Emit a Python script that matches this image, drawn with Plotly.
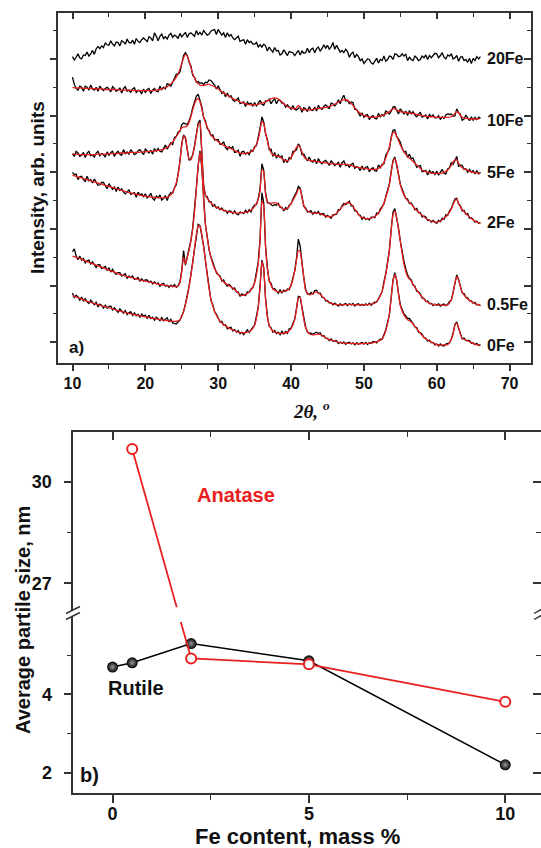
import plotly.graph_objects as go

W, H = 541, 848
FONT = "Liberation Sans, Arial, sans-serif"
RED = "#e82020"
FRAME = "#333333"

# ---------------- panel a: XRD patterns ----------------
# measured scans, 0.25 deg step (rows of 5 deg)
scan_theta = [
    10.0, 10.25, 10.5, 10.75, 11.0, 11.25, 11.5, 11.75, 12.0, 12.25, 12.5, 12.75, 13.0, 13.25, 13.5, 13.75, 14.0, 14.25, 14.5, 14.75,
    15.0, 15.25, 15.5, 15.75, 16.0, 16.25, 16.5, 16.75, 17.0, 17.25, 17.5, 17.75, 18.0, 18.25, 18.5, 18.75, 19.0, 19.25, 19.5, 19.75,
    20.0, 20.25, 20.5, 20.75, 21.0, 21.25, 21.5, 21.75, 22.0, 22.25, 22.5, 22.75, 23.0, 23.25, 23.5, 23.75, 24.0, 24.25, 24.5, 24.75,
    25.0, 25.25, 25.5, 25.75, 26.0, 26.25, 26.5, 26.75, 27.0, 27.25, 27.5, 27.75, 28.0, 28.25, 28.5, 28.75, 29.0, 29.25, 29.5, 29.75,
    30.0, 30.25, 30.5, 30.75, 31.0, 31.25, 31.5, 31.75, 32.0, 32.25, 32.5, 32.75, 33.0, 33.25, 33.5, 33.75, 34.0, 34.25, 34.5, 34.75,
    35.0, 35.25, 35.5, 35.75, 36.0, 36.25, 36.5, 36.75, 37.0, 37.25, 37.5, 37.75, 38.0, 38.25, 38.5, 38.75, 39.0, 39.25, 39.5, 39.75,
    40.0, 40.25, 40.5, 40.75, 41.0, 41.25, 41.5, 41.75, 42.0, 42.25, 42.5, 42.75, 43.0, 43.25, 43.5, 43.75, 44.0, 44.25, 44.5, 44.75,
    45.0, 45.25, 45.5, 45.75, 46.0, 46.25, 46.5, 46.75, 47.0, 47.25, 47.5, 47.75, 48.0, 48.25, 48.5, 48.75, 49.0, 49.25, 49.5, 49.75,
    50.0, 50.25, 50.5, 50.75, 51.0, 51.25, 51.5, 51.75, 52.0, 52.25, 52.5, 52.75, 53.0, 53.25, 53.5, 53.75, 54.0, 54.25, 54.5, 54.75,
    55.0, 55.25, 55.5, 55.75, 56.0, 56.25, 56.5, 56.75, 57.0, 57.25, 57.5, 57.75, 58.0, 58.25, 58.5, 58.75, 59.0, 59.25, 59.5, 59.75,
    60.0, 60.25, 60.5, 60.75, 61.0, 61.25, 61.5, 61.75, 62.0, 62.25, 62.5, 62.75, 63.0, 63.25, 63.5, 63.75, 64.0, 64.25, 64.5, 64.75,
    65.0, 65.25, 65.5, 65.75, 66.0,
]

fe0_obs = [
    0.87, 0.79, 0.83, 0.80, 0.745, 0.80, 0.73, 0.77, 0.715, 0.685, 0.745, 0.705, 0.665, 0.705, 0.625, 0.675, 0.655, 0.605, 0.655, 0.60,
    0.63, 0.64, 0.57, 0.61, 0.56, 0.53, 0.59, 0.56, 0.515, 0.56, 0.49, 0.52, 0.54, 0.475, 0.52, 0.47, 0.495, 0.44, 0.50, 0.465,
    0.48, 0.424, 0.478, 0.42, 0.445, 0.39, 0.443, 0.417, 0.382, 0.437, 0.382, 0.407, 0.433, 0.359, 0.405, 0.342, 0.33, 0.323, 0.36, 0.39,
    0.47, 0.54, 0.68, 0.81, 0.99, 1.20, 1.41, 1.68, 1.91, 2.08, 2.06, 1.88, 1.70, 1.44, 1.19, 0.97, 0.74, 0.67, 0.54, 0.50,
    0.44, 0.36, 0.37, 0.30, 0.31, 0.24, 0.26, 0.265, 0.20, 0.225, 0.18, 0.21, 0.15, 0.177, 0.135, 0.19, 0.22, 0.175, 0.22, 0.27,
    0.31, 0.46, 0.63, 1.00, 1.45, 1.32, 0.77, 0.47, 0.28, 0.26, 0.18, 0.21, 0.155, 0.18, 0.135, 0.197, 0.15, 0.19, 0.16, 0.24,
    0.25, 0.33, 0.41, 0.60, 0.81, 0.80, 0.61, 0.39, 0.27, 0.18, 0.16, 0.16, 0.14, 0.165, 0.18, 0.16, 0.17, 0.11, 0.12, 0.07,
    0.07, 0.03, 0.06, 0.02, 0.03, 0.03, -0.02, 0.005, -0.02, 0.008, -0.035, -0.007, 0.0, -0.03, -0.01, -0.042, -0.005, -0.035, -0.015, -0.002,
    -0.03, 0.0, -0.04, -0.005, -0.02, 0.015, 0.01, -0.01, 0.03, 0.055, 0.05, 0.13, 0.22, 0.35, 0.49, 0.80, 1.10, 1.23, 1.09, 0.87,
    0.66, 0.58, 0.50, 0.47, 0.42, 0.42, 0.38, 0.33, 0.27, 0.26, 0.18, 0.17, 0.14, 0.08, 0.07, 0.02, 0.04, -0.005, 0.0, -0.045,
    -0.03, -0.065, -0.03, -0.058, -0.065, -0.032, -0.02, -0.01, 0.06, 0.16, 0.32, 0.36, 0.25, 0.16, 0.06, 0.075, 0.03, 0.035, 0.03, -0.015,
    -0.01, -0.04, -0.02, -0.055, -0.04,
]
fe05_obs = [
    1.60, 1.65, 1.52, 1.46, 1.52, 1.45, 1.48, 1.40, 1.44, 1.45, 1.38, 1.42, 1.37, 1.32, 1.37, 1.37, 1.30, 1.32, 1.34, 1.27,
    1.31, 1.24, 1.29, 1.23, 1.20, 1.23, 1.23, 1.17, 1.19, 1.21, 1.13, 1.17, 1.14, 1.17, 1.11, 1.13, 1.14, 1.08, 1.12, 1.08,
    1.10, 1.10, 1.06, 1.08, 1.03, 1.07, 1.03, 1.05, 0.99, 1.03, 1.04, 0.99, 1.01, 0.97, 1.01, 0.98, 1.02, 0.97, 1.00, 1.07,
    1.27, 1.62, 1.36, 1.51, 1.64, 1.80, 2.02, 2.31, 2.72, 3.12, 3.38, 3.08, 2.52, 2.07, 1.86, 1.63, 1.51, 1.42, 1.31, 1.23,
    1.19, 1.17, 1.08, 1.10, 1.03, 0.99, 1.02, 0.99, 0.94, 0.96, 0.89, 0.89, 0.81, 0.855, 0.84, 0.825, 0.89, 0.88, 0.94, 0.96,
    1.06, 1.22, 1.42, 1.83, 2.64, 2.46, 1.69, 1.32, 1.08, 1.04, 0.94, 0.95, 0.91, 0.865, 0.93, 0.875, 0.92, 0.90, 0.94, 0.93,
    1.01, 1.14, 1.26, 1.48, 1.82, 1.70, 1.40, 1.14, 0.94, 0.85, 0.85, 0.88, 0.85, 0.915, 0.92, 0.86, 0.87, 0.795, 0.79, 0.73,
    0.74, 0.695, 0.70, 0.66, 0.69, 0.665, 0.64, 0.68, 0.65, 0.67, 0.685, 0.65, 0.68, 0.66, 0.685, 0.64, 0.67, 0.68, 0.65, 0.67,
    0.65, 0.68, 0.655, 0.69, 0.655, 0.69, 0.71, 0.71, 0.78, 0.84, 0.89, 1.07, 1.21, 1.42, 1.63, 2.00, 2.30, 2.36, 2.21, 2.02,
    1.79, 1.59, 1.43, 1.30, 1.19, 1.13, 1.10, 1.01, 0.99, 0.90, 0.89, 0.86, 0.78, 0.775, 0.72, 0.73, 0.68, 0.69, 0.65, 0.675,
    0.65, 0.68, 0.635, 0.665, 0.675, 0.645, 0.67, 0.72, 0.74, 0.89, 1.07, 1.19, 1.11, 1.00, 0.87, 0.86, 0.79, 0.79, 0.73, 0.73,
    0.69, 0.705, 0.66, 0.67, 0.645,
]
fe2_obs = [
    3.00, 2.96, 2.97, 2.87, 2.92, 2.93, 2.87, 2.84, 2.93, 2.85, 2.87, 2.81, 2.88, 2.83, 2.77, 2.78, 2.82, 2.82, 2.76, 2.71,
    2.80, 2.75, 2.70, 2.74, 2.66, 2.74, 2.68, 2.71, 2.65, 2.62, 2.66, 2.69, 2.61, 2.62, 2.64, 2.56, 2.65, 2.60, 2.62, 2.57,
    2.62, 2.55, 2.58, 2.63, 2.54, 2.51, 2.58, 2.55, 2.60, 2.51, 2.54, 2.59, 2.50, 2.60, 2.64, 2.63, 2.73, 2.78, 2.98, 3.19,
    3.51, 3.66, 3.60, 3.43, 3.21, 3.24, 3.31, 3.47, 3.67, 3.87, 3.92, 3.37, 2.78, 2.58, 2.57, 2.48, 2.48, 2.40, 2.43, 2.37,
    2.39, 2.34, 2.37, 2.32, 2.33, 2.28, 2.32, 2.31, 2.27, 2.32, 2.27, 2.25, 2.30, 2.29, 2.27, 2.33, 2.29, 2.34, 2.30, 2.38,
    2.42, 2.43, 2.54, 2.71, 3.15, 3.04, 2.64, 2.46, 2.46, 2.43, 2.41, 2.43, 2.42, 2.45, 2.38, 2.38, 2.32, 2.38, 2.35, 2.42,
    2.44, 2.53, 2.58, 2.65, 2.75, 2.72, 2.58, 2.40, 2.37, 2.30, 2.31, 2.32, 2.26, 2.30, 2.27, 2.31, 2.25, 2.27, 2.27, 2.21,
    2.24, 2.21, 2.19, 2.25, 2.26, 2.26, 2.34, 2.34, 2.41, 2.45, 2.43, 2.47, 2.49, 2.41, 2.41, 2.32, 2.32, 2.25, 2.24, 2.17,
    2.21, 2.17, 2.19, 2.16, 2.21, 2.21, 2.20, 2.28, 2.27, 2.35, 2.39, 2.44, 2.57, 2.67, 2.80, 3.02, 3.21, 3.27, 3.14, 2.97,
    2.79, 2.72, 2.62, 2.54, 2.53, 2.45, 2.46, 2.41, 2.34, 2.36, 2.29, 2.29, 2.21, 2.23, 2.21, 2.15, 2.16, 2.12, 2.15, 2.12,
    2.10, 2.15, 2.13, 2.19, 2.17, 2.25, 2.24, 2.32, 2.36, 2.45, 2.53, 2.54, 2.44, 2.41, 2.32, 2.33, 2.26, 2.27, 2.19, 2.20,
    2.17, 2.12, 2.14, 2.10, 2.11,
]
fe5_obs = [
    3.33, 3.28, 3.37, 3.34, 3.28, 3.30, 3.35, 3.26, 3.34, 3.37, 3.29, 3.31, 3.27, 3.34, 3.37, 3.29, 3.33, 3.31, 3.27, 3.36,
    3.30, 3.35, 3.37, 3.28, 3.34, 3.37, 3.32, 3.30, 3.40, 3.33, 3.36, 3.32, 3.40, 3.36, 3.31, 3.33, 3.38, 3.40, 3.35, 3.31,
    3.41, 3.38, 3.34, 3.39, 3.32, 3.42, 3.37, 3.42, 3.37, 3.36, 3.42, 3.48, 3.41, 3.46, 3.52, 3.49, 3.62, 3.63, 3.71, 3.72,
    3.84, 3.87, 3.85, 3.84, 3.91, 4.00, 4.14, 4.23, 4.34, 4.38, 4.26, 4.16, 3.96, 3.91, 3.77, 3.74, 3.65, 3.66, 3.57, 3.58,
    3.58, 3.49, 3.50, 3.54, 3.44, 3.40, 3.45, 3.42, 3.45, 3.35, 3.36, 3.39, 3.28, 3.36, 3.37, 3.32, 3.35, 3.31, 3.39, 3.37,
    3.45, 3.47, 3.61, 3.78, 3.98, 3.89, 3.68, 3.58, 3.40, 3.41, 3.28, 3.35, 3.25, 3.31, 3.26, 3.29, 3.17, 3.23, 3.17, 3.26,
    3.24, 3.37, 3.37, 3.40, 3.50, 3.45, 3.31, 3.32, 3.26, 3.20, 3.27, 3.20, 3.18, 3.23, 3.15, 3.24, 3.18, 3.15, 3.19, 3.21,
    3.17, 3.12, 3.20, 3.17, 3.12, 3.14, 3.18, 3.09, 3.17, 3.20, 3.12, 3.14, 3.09, 3.14, 3.16, 3.07, 3.10, 3.08, 3.03, 3.11,
    3.04, 3.09, 3.10, 3.01, 3.06, 3.08, 3.03, 3.02, 3.13, 3.08, 3.14, 3.15, 3.30, 3.36, 3.41, 3.62, 3.74, 3.75, 3.63, 3.59,
    3.53, 3.43, 3.36, 3.37, 3.26, 3.32, 3.24, 3.25, 3.17, 3.09, 3.11, 3.12, 3.01, 3.02, 3.03, 2.95, 3.03, 2.99, 3.01, 2.96,
    3.02, 2.95, 2.99, 3.05, 2.98, 2.97, 3.06, 3.08, 3.17, 3.14, 3.21, 3.28, 3.10, 3.13, 3.12, 3.05, 3.06, 3.00, 3.05, 3.00,
    3.03, 2.97, 3.03, 2.97, 3.00,
]
fe10_obs = [
    4.68, 4.55, 4.48, 4.45, 4.52, 4.50, 4.43, 4.52, 4.50, 4.45, 4.54, 4.47, 4.45, 4.50, 4.43, 4.52, 4.47, 4.44, 4.48, 4.50,
    4.47, 4.42, 4.51, 4.48, 4.43, 4.45, 4.49, 4.40, 4.48, 4.51, 4.43, 4.45, 4.41, 4.47, 4.49, 4.41, 4.45, 4.43, 4.39, 4.47,
    4.41, 4.46, 4.48, 4.39, 4.45, 4.48, 4.43, 4.42, 4.52, 4.46, 4.50, 4.47, 4.56, 4.55, 4.52, 4.58, 4.66, 4.73, 4.73, 4.77,
    4.94, 5.06, 5.11, 5.06, 4.94, 4.88, 4.71, 4.68, 4.59, 4.60, 4.57, 4.58, 4.55, 4.59, 4.58, 4.63, 4.62, 4.58, 4.54, 4.47,
    4.52, 4.46, 4.39, 4.42, 4.33, 4.40, 4.33, 4.35, 4.28, 4.25, 4.28, 4.31, 4.21, 4.22, 4.24, 4.16, 4.24, 4.20, 4.22, 4.17,
    4.23, 4.17, 4.21, 4.27, 4.20, 4.18, 4.26, 4.26, 4.29, 4.21, 4.26, 4.30, 4.21, 4.27, 4.27, 4.22, 4.22, 4.15, 4.19, 4.14,
    4.11, 4.18, 4.11, 4.10, 4.13, 4.15, 4.06, 4.14, 4.12, 4.07, 4.16, 4.10, 4.09, 4.15, 4.08, 4.18, 4.13, 4.11, 4.16, 4.19,
    4.16, 4.12, 4.22, 4.21, 4.17, 4.21, 4.28, 4.21, 4.30, 4.36, 4.26, 4.27, 4.21, 4.24, 4.23, 4.11, 4.11, 4.06, 3.99, 4.05,
    3.97, 4.01, 4.02, 3.93, 3.98, 4.00, 3.95, 3.94, 4.04, 3.98, 4.02, 3.99, 4.08, 4.06, 4.03, 4.08, 4.15, 4.16, 4.09, 4.03,
    4.12, 4.08, 4.03, 4.08, 4.00, 4.09, 4.03, 4.07, 4.01, 3.98, 4.02, 4.06, 3.97, 3.99, 4.01, 3.94, 4.02, 3.98, 4.01, 3.96,
    3.96, 4.00, 3.93, 3.98, 3.95, 4.01, 4.03, 4.02, 4.03, 3.99, 4.00, 4.12, 4.05, 4.02, 3.92, 3.94, 4.01, 3.96, 3.91, 3.98,
    3.92, 3.97, 3.93, 3.97, 3.96,
]
fe20_obs = [
    5.04, 4.98, 5.03, 5.09, 5.02, 5.00, 5.07, 5.06, 5.12, 5.05, 5.09, 5.15, 5.08, 5.18, 5.22, 5.18, 5.23, 5.20, 5.28, 5.25,
    5.24, 5.32, 5.26, 5.23, 5.30, 5.29, 5.23, 5.32, 5.30, 5.26, 5.35, 5.29, 5.28, 5.33, 5.26, 5.36, 5.31, 5.29, 5.34, 5.37,
    5.34, 5.30, 5.39, 5.37, 5.32, 5.46, 5.40, 5.32, 5.40, 5.44, 5.36, 5.39, 5.35, 5.42, 5.45, 5.38, 5.42, 5.40, 5.36, 5.45,
    5.39, 5.44, 5.47, 5.38, 5.44, 5.46, 5.42, 5.40, 5.50, 5.43, 5.47, 5.42, 5.50, 5.46, 5.42, 5.44, 5.49, 5.51, 5.52, 5.43,
    5.52, 5.47, 5.42, 5.46, 5.38, 5.46, 5.40, 5.43, 5.37, 5.34, 5.38, 5.40, 5.31, 5.32, 5.34, 5.26, 5.34, 5.29, 5.31, 5.26,
    5.26, 5.29, 5.21, 5.25, 5.21, 5.26, 5.23, 5.14, 5.21, 5.16, 5.12, 5.20, 5.14, 5.15, 5.07, 5.09, 5.16, 5.11, 5.06, 5.13,
    5.12, 5.11, 5.06, 5.10, 5.15, 5.07, 5.14, 5.10, 5.11, 5.19, 5.11, 5.17, 5.19, 5.11, 5.18, 5.21, 5.14, 5.18, 5.25, 5.19,
    5.24, 5.17, 5.21, 5.29, 5.17, 5.24, 5.19, 5.12, 5.15, 5.11, 5.17, 5.13, 5.03, 5.09, 5.12, 5.02, 5.08, 5.04, 4.97, 5.00,
    4.92, 4.96, 5.00, 4.99, 4.93, 4.91, 4.96, 5.01, 4.93, 4.99, 4.97, 5.05, 4.96, 4.99, 5.05, 5.04, 4.99, 5.09, 5.08, 5.04,
    5.05, 5.09, 5.05, 5.08, 4.97, 5.03, 4.99, 4.97, 5.05, 5.02, 4.97, 4.99, 5.05, 5.02, 5.07, 4.99, 5.06, 5.02, 5.06, 5.10,
    5.09, 5.02, 5.06, 5.11, 5.03, 5.00, 5.07, 5.05, 5.09, 5.00, 5.02, 5.06, 4.96, 5.03, 5.04, 4.97, 4.99, 4.94, 5.01, 4.92,
    5.01, 4.97, 5.04, 5.00, 5.04,
]

# fitted profiles, finer step around the reflections
fit_theta = [
    10.0, 10.5, 11.0, 11.5, 12.0, 12.5, 13.0, 13.5, 14.0, 14.5, 15.0, 15.5, 16.0, 16.5, 17.0,
    17.5, 18.0, 18.5, 19.0, 19.5, 20.0, 20.5, 21.0, 21.5, 22.0, 22.5, 23.0, 23.5, 24.0, 24.5,
    24.75, 25.0, 25.25, 25.5, 25.75, 26.0, 26.25, 26.5, 26.75, 27.0, 27.25, 27.5, 27.75, 28.0,
    28.25, 28.5, 28.75, 29.0,
    29.5, 30.0, 30.5, 31.0, 31.5, 32.0, 32.5, 33.0, 33.5, 34.0, 34.5, 35.0, 35.5,
    35.75, 36.0, 36.25, 36.5, 36.75, 37.0,
    37.5, 38.0, 38.5, 39.0, 39.5, 40.0, 40.5,
    40.75, 41.0, 41.25, 41.5, 41.75, 42.0,
    42.5, 43.0, 43.5, 44.0, 44.5, 45.0, 45.5, 46.0, 46.5, 47.0, 47.5, 48.0, 48.5, 49.0, 49.5,
    50.0, 50.5, 51.0, 51.5, 52.0, 52.5, 53.0, 53.5,
    53.75, 54.0, 54.25, 54.5, 54.75, 55.0,
    55.5, 56.0, 56.5, 57.0, 57.5, 58.0, 58.5, 59.0, 59.5, 60.0, 60.5, 61.0, 61.5, 62.0,
    62.25, 62.5, 62.75, 63.0, 63.25, 63.5,
    64.0, 64.5, 65.0, 65.5, 66.0,
]
fe0_fit = [
    0.82, 0.80, 0.775, 0.75, 0.725, 0.705, 0.685, 0.665, 0.645, 0.627, 0.61, 0.59, 0.57, 0.552, 0.535,
    0.52, 0.503, 0.49, 0.476, 0.462, 0.45, 0.438, 0.425, 0.413, 0.402, 0.392, 0.383, 0.375, 0.37, 0.38,
    0.40, 0.46, 0.55, 0.66, 0.80, 0.98, 1.18, 1.40, 1.66, 1.90, 2.05, 2.05, 1.90, 1.68, 1.45, 1.18, 0.95, 0.76,
    0.55, 0.42, 0.34, 0.29, 0.25, 0.22, 0.19, 0.17, 0.165, 0.18, 0.21, 0.30, 0.62,
    0.98, 1.42, 1.30, 0.78, 0.45, 0.30,
    0.20, 0.165, 0.155, 0.16, 0.18, 0.24, 0.40,
    0.58, 0.78, 0.79, 0.60, 0.40, 0.26,
    0.15, 0.13, 0.14, 0.14, 0.10, 0.06, 0.04, 0.02, 0.0, -0.01, -0.015, -0.02, -0.02, -0.025, -0.025,
    -0.02, -0.02, -0.01, 0.0, 0.02, 0.06, 0.20, 0.50,
    0.78, 1.08, 1.20, 1.10, 0.85, 0.65,
    0.48, 0.40, 0.36, 0.28, 0.20, 0.12, 0.06, 0.02, -0.01, -0.04, -0.05, -0.045, -0.04, 0.05,
    0.15, 0.30, 0.34, 0.26, 0.14, 0.07,
    0.04, 0.01, -0.02, -0.04, -0.05,
]
fe05_fit = [
    1.52, 1.50, 1.48, 1.45, 1.425, 1.40, 1.375, 1.35, 1.325, 1.30, 1.275, 1.25, 1.225, 1.20, 1.18,
    1.16, 1.145, 1.13, 1.11, 1.095, 1.08, 1.065, 1.05, 1.035, 1.02, 1.01, 1.0, 0.99, 0.985, 0.99,
    1.05, 1.25, 1.50, 1.38, 1.50, 1.62, 1.78, 2.0, 2.30, 2.70, 3.10, 3.35, 3.10, 2.50, 2.08, 1.85, 1.65, 1.50,
    1.30, 1.20, 1.10, 1.04, 1.0, 0.96, 0.90, 0.84, 0.83, 0.86, 0.92, 1.05, 1.40,
    1.80, 2.50, 2.40, 1.70, 1.30, 1.10,
    0.95, 0.90, 0.89, 0.90, 0.92, 1.0, 1.25,
    1.45, 1.62, 1.60, 1.38, 1.15, 0.92,
    0.84, 0.86, 0.89, 0.85, 0.78, 0.72, 0.69, 0.67, 0.66, 0.66, 0.665, 0.67, 0.665, 0.66, 0.66,
    0.66, 0.665, 0.675, 0.69, 0.76, 0.90, 1.20, 1.62,
    1.98, 2.25, 2.32, 2.20, 2.00, 1.78,
    1.38, 1.16, 1.08, 0.97, 0.88, 0.80, 0.73, 0.69, 0.67, 0.66, 0.655, 0.655, 0.66, 0.75,
    0.87, 1.05, 1.16, 1.10, 0.98, 0.88,
    0.80, 0.74, 0.70, 0.67, 0.655,
]
fe2_fit = [
    2.95, 2.93, 2.91, 2.89, 2.87, 2.85, 2.83, 2.81, 2.79, 2.77, 2.75, 2.73, 2.71, 2.69, 2.67,
    2.65, 2.635, 2.62, 2.605, 2.59, 2.58, 2.57, 2.56, 2.555, 2.55, 2.55, 2.56, 2.60, 2.72, 2.95,
    3.20, 3.48, 3.64, 3.62, 3.40, 3.24, 3.22, 3.30, 3.45, 3.65, 3.83, 3.88, 3.35, 2.75, 2.60, 2.54, 2.50, 2.46,
    2.40, 2.37, 2.34, 2.32, 2.30, 2.29, 2.28, 2.28, 2.29, 2.30, 2.33, 2.40, 2.52,
    2.68, 3.05, 3.00, 2.62, 2.48, 2.45,
    2.46, 2.46, 2.40, 2.34, 2.36, 2.45, 2.56,
    2.62, 2.70, 2.70, 2.55, 2.42, 2.35,
    2.30, 2.28, 2.28, 2.27, 2.24, 2.22, 2.22, 2.25, 2.31, 2.39, 2.45, 2.46, 2.40, 2.30, 2.22,
    2.19, 2.18, 2.19, 2.22, 2.28, 2.38, 2.55, 2.78,
    3.00, 3.18, 3.24, 3.15, 2.95, 2.78,
    2.60, 2.50, 2.44, 2.36, 2.30, 2.24, 2.19, 2.15, 2.13, 2.12, 2.14, 2.19, 2.25, 2.35,
    2.43, 2.50, 2.52, 2.45, 2.39, 2.34,
    2.27, 2.21, 2.16, 2.12, 2.10,
]
fe5_fit = [
    3.32, 3.32, 3.31, 3.31, 3.31, 3.31, 3.31, 3.32, 3.32, 3.32, 3.33, 3.33, 3.33, 3.34, 3.34,
    3.34, 3.35, 3.35, 3.35, 3.36, 3.36, 3.37, 3.37, 3.38, 3.39, 3.41, 3.44, 3.50, 3.58, 3.68,
    3.74, 3.78, 3.80, 3.80, 3.82, 3.88, 3.98, 4.10, 4.20, 4.28, 4.30, 4.24, 4.12, 3.98, 3.88, 3.80, 3.72, 3.66,
    3.59, 3.54, 3.49, 3.46, 3.43, 3.40, 3.37, 3.34, 3.33, 3.34, 3.36, 3.43, 3.58,
    3.74, 3.90, 3.86, 3.70, 3.55, 3.42,
    3.31, 3.29, 3.27, 3.22, 3.20, 3.26, 3.38,
    3.44, 3.47, 3.44, 3.36, 3.28, 3.24,
    3.21, 3.20, 3.19, 3.18, 3.17, 3.16, 3.15, 3.15, 3.14, 3.14, 3.14, 3.13, 3.11, 3.09, 3.08,
    3.07, 3.06, 3.05, 3.05, 3.07, 3.12, 3.25, 3.45,
    3.60, 3.70, 3.70, 3.64, 3.56, 3.48,
    3.36, 3.28, 3.22, 3.16, 3.10, 3.04, 3.01, 2.99, 2.98, 2.98, 2.98, 3.00, 3.04, 3.12,
    3.18, 3.22, 3.22, 3.16, 3.11, 3.08,
    3.05, 3.02, 3.00, 2.99, 2.98,
]
fe10_fit = [
    4.50, 4.49, 4.49, 4.48, 4.48, 4.48, 4.47, 4.47, 4.47, 4.46, 4.46, 4.46, 4.46, 4.45, 4.45,
    4.45, 4.45, 4.44, 4.44, 4.44, 4.44, 4.44, 4.44, 4.45, 4.46, 4.48, 4.51, 4.56, 4.63, 4.74,
    4.82, 4.92, 5.02, 5.08, 5.05, 4.96, 4.85, 4.74, 4.66, 4.60, 4.56, 4.54, 4.53, 4.53, 4.54, 4.55, 4.55, 4.54,
    4.51, 4.47, 4.42, 4.38, 4.34, 4.30, 4.27, 4.24, 4.22, 4.20, 4.19, 4.19, 4.20,
    4.21, 4.22, 4.23, 4.24, 4.26, 4.28,
    4.31, 4.31, 4.27, 4.21, 4.16, 4.13, 4.12,
    4.14, 4.18, 4.14, 4.11, 4.10, 4.10,
    4.10, 4.11, 4.12, 4.13, 4.14, 4.15, 4.17, 4.20, 4.24, 4.27, 4.28, 4.25, 4.18, 4.10, 4.04,
    4.00, 3.98, 3.97, 3.97, 3.98, 4.00, 4.03, 4.07,
    4.10, 4.12, 4.12, 4.10, 4.08, 4.07,
    4.06, 4.05, 4.04, 4.03, 4.01, 4.00, 3.99, 3.98, 3.98, 3.97, 3.97, 3.97, 3.97, 3.98,
    4.00, 4.04, 4.07, 4.05, 4.00, 3.97,
    3.95, 3.94, 3.94, 3.94, 3.95,
]

# (label, measured scan, fitted profile, label height)
samples = [
    ("0Fe", fe0_obs, fe0_fit, -0.06),
    ("0.5Fe", fe05_obs, fe05_fit, 0.66),
    ("2Fe", fe2_obs, fe2_fit, 2.11),
    ("5Fe", fe5_obs, fe5_fit, 2.99),
    ("10Fe", fe10_obs, fe10_fit, 3.92),
    ("20Fe", fe20_obs, None, 5.0),
]
for name, obs, fit, _ in samples:
    assert len(obs) == len(scan_theta), name
    if fit is not None:
        assert len(fit) == len(fit_theta), name

# ---------------- panel b: particle size ----------------
rutile_fe = [0, 0.5, 2, 5, 10]
rutile_size = [4.70, 4.81, 5.30, 4.86, 2.20]
anatase_fe = [0.5, 2, 5, 10]
anatase_size = [30.98, 4.92, 4.77, 3.81]

size_ticks = [2, 4, 27, 30]
size_minor = [3, 5, 28.5]
fe_ticks = [0, 5, 10]
fe_minor = [2.5, 7.5]

# broken size axis: lower segment kept as is, upper segment shifted down and compressed
LOW_TOP = 5.85
HIGH_BOTTOM = 26.3
GAP = 0.383
HIGH_SCALE = 0.865


def broken(v):
    if v <= LOW_TOP:
        return v
    return LOW_TOP + GAP + (v - HIGH_BOTTOM) * HIGH_SCALE


def px(x):
    return x / W


def py(y):
    return 1 - y / H


A_X = [px(58.3), px(530.7)]
A_Y = [py(363.3), py(13.3)]
B_X = [px(73.3), 1.0]
B_Y = [py(793.3), py(431.7)]

fig = go.Figure()

for name, obs, fit, _ in samples:
    fig.add_trace(go.Scatter(x=scan_theta, y=obs, mode="lines",
                             line=dict(color="#000000", width=1.3),
                             xaxis="x", yaxis="y", showlegend=False, hoverinfo="skip"))
for name, obs, fit, _ in samples:
    if fit is not None:
        fig.add_trace(go.Scatter(x=fit_theta, y=fit, mode="lines",
                                 line=dict(color=RED, width=1.3, shape="spline", smoothing=0.6),
                                 xaxis="x", yaxis="y", showlegend=False, hoverinfo="skip"))

# empty traces that carry the mirrored (inward) tick axes
fig.add_trace(go.Scatter(x=[None], y=[None], xaxis="x2", yaxis="y2", showlegend=False))
fig.add_trace(go.Scatter(x=[None], y=[None], xaxis="x4", yaxis="y4", showlegend=False))

fig.add_trace(go.Scatter(
    x=rutile_fe, y=[broken(v) for v in rutile_size], mode="lines+markers",
    line=dict(color="#000000", width=1.5),
    marker=dict(size=11, color="#000000", line=dict(width=0),
                gradient=dict(type="radial", color="#9a9a9a")),
    xaxis="x3", yaxis="y3", showlegend=False, hoverinfo="skip"))
fig.add_trace(go.Scatter(
    x=anatase_fe, y=[broken(v) for v in anatase_size], mode="lines+markers",
    line=dict(color=RED, width=1.8),
    marker=dict(size=10, color="white", line=dict(color=RED, width=2)),
    xaxis="x3", yaxis="y3", showlegend=False, hoverinfo="skip"))

tick_font_a = dict(family=FONT, size=16, color="#111111")
tick_font_b = dict(family=FONT, size=18, color="#111111")
base = dict(showgrid=False, zeroline=False, showline=True, linecolor=FRAME, linewidth=1.6,
            tickcolor=FRAME, tickwidth=1.5)

XR_A = [8.05, 72.9]
YR_A = [-0.37, 5.805]
XR_B = [-1.0, 10.91]
YR_B = [1.47, broken(31.49)]
theta_ticks = [10, 20, 30, 40, 50, 60, 70]
theta_minor = [15, 25, 35, 45, 55, 65]


def b(t):
    return "<b>%s</b>" % t


fig.update_layout(
    width=W, height=H, margin=dict(l=0, r=0, t=0, b=0),
    paper_bgcolor="white", plot_bgcolor="white",
    xaxis=dict(base, domain=A_X, range=XR_A, anchor="y", tickmode="array",
               tickvals=theta_ticks, ticktext=[b(t) for t in theta_ticks],
               ticks="outside", ticklen=6, tickfont=tick_font_a, ticklabelstandoff=-1,
               minor=dict(tickvals=theta_minor, ticks="outside", ticklen=3.5,
                          tickcolor=FRAME, tickwidth=1.3)),
    xaxis2=dict(base, range=XR_A, overlaying="x", side="top", anchor="y", tickmode="array",
                tickvals=theta_ticks, ticks="inside", ticklen=6, showticklabels=False,
                minor=dict(tickvals=theta_minor, ticks="inside", ticklen=3.5,
                           tickcolor=FRAME, tickwidth=1.3)),
    yaxis=dict(base, domain=A_Y, range=YR_A, anchor="x", tickmode="array",
               tickvals=[0, 1, 2, 3, 4, 5], ticks="outside", ticklen=7, showticklabels=False,
               minor=dict(tickvals=[0.5, 1.5, 2.5, 3.5, 4.5, 5.5], ticks="outside", ticklen=4,
                          tickcolor=FRAME, tickwidth=1.3)),
    yaxis2=dict(base, range=YR_A, overlaying="y", side="right", anchor="x", tickmode="array",
                tickvals=[0, 1, 2, 3, 4, 5], ticks="inside", ticklen=7, showticklabels=False,
                minor=dict(tickvals=[0.5, 1.5, 2.5, 3.5, 4.5, 5.5], ticks="inside", ticklen=4,
                           tickcolor=FRAME, tickwidth=1.3)),
    xaxis3=dict(base, domain=B_X, range=XR_B, anchor="y3", tickmode="array",
                tickvals=fe_ticks, ticktext=[b(t) for t in fe_ticks],
                ticks="outside", ticklen=8, tickfont=tick_font_b, ticklabelstandoff=-5,
                minor=dict(tickvals=fe_minor, ticks="outside", ticklen=5,
                           tickcolor=FRAME, tickwidth=1.3)),
    xaxis4=dict(base, range=XR_B, overlaying="x3", side="top", anchor="y3", tickmode="array",
                tickvals=fe_ticks, ticks="inside", ticklen=8, showticklabels=False,
                minor=dict(tickvals=fe_minor, ticks="inside", ticklen=5,
                           tickcolor=FRAME, tickwidth=1.3)),
    yaxis3=dict(base, domain=B_Y, range=YR_B, anchor="x3", tickmode="array",
                tickvals=[broken(v) for v in size_ticks],
                ticktext=[b(v) for v in size_ticks], ticks="outside", ticklen=8,
                tickfont=tick_font_b, ticklabelstandoff=8,
                minor=dict(tickvals=[broken(v) for v in size_minor], ticks="outside",
                           ticklen=5, tickcolor=FRAME, tickwidth=1.3)),
    yaxis4=dict(base, range=YR_B, overlaying="y3", side="right", anchor="x3", tickmode="array",
                showline=False,
                tickvals=[broken(v) for v in size_ticks], ticks="inside", ticklen=8,
                showticklabels=False,
                minor=dict(tickvals=[broken(v) for v in size_minor], ticks="inside",
                           ticklen=5, tickcolor=FRAME, tickwidth=1.3)),
)

# gap of the broken axis and its break marks
shapes = [
    dict(type="rect", xref="paper", yref="y3", x0=px(75.5), x1=1.0,
         y0=LOW_TOP, y1=LOW_TOP + GAP, fillcolor="white", line=dict(width=0), layer="above"),
    dict(type="rect", xref="paper", yref="paper", x0=px(70), x1=px(77), y0=py(617), y1=py(611),
         fillcolor="white", line=dict(width=0), layer="above"),
]
for y_low in (619.5, 613.5):
    shapes.append(dict(type="line", xref="paper", yref="paper", x0=px(66), y0=py(y_low),
                       x1=px(80), y1=py(y_low - 7), line=dict(color=FRAME, width=1.5),
                       layer="above"))
    shapes.append(dict(type="line", xref="paper", yref="paper", x0=px(534), y0=py(y_low),
                       x1=px(543), y1=py(y_low - 5), line=dict(color=FRAME, width=1.4),
                       layer="above"))
fig.update_layout(shapes=shapes)


def txt(text, x, y, size, color="#111111", family=FONT, xanchor="center", angle=0, xref="paper",
        yref="paper"):
    return dict(text=b(text), x=x, y=y, xref=xref, yref=yref, xanchor=xanchor,
                yanchor="middle", textangle=angle, showarrow=False,
                font=dict(family=family, size=size, color=color))


ann = []
for name, obs, fit, y_lab in samples:
    ann.append(txt(name, 66.6, y_lab, 16, xanchor="left", xref="x", yref="y"))
ann += [
    txt("Intensity, arb. units", px(37), py(188), 19, angle=-90),
    txt("<i>2θ,</i> <sup><i>o</i></sup>", px(311), py(410), 19,
        family="Liberation Serif, Times New Roman, serif"),
    txt("a)", px(66.5), py(347), 17, xanchor="left"),
    txt("Average partile size, nm", px(23), py(620), 20, angle=-90),
    txt("Fe content, mass %", px(297), py(836), 22),
    txt("b)", px(78), py(775), 20, xanchor="left"),
    txt("Anatase", px(195), py(495), 20, color=RED, xanchor="left"),
    txt("Rutile", px(106), py(688), 20, xanchor="left"),
]
fig.update_layout(annotations=ann)

fig.write_html("out.html")
